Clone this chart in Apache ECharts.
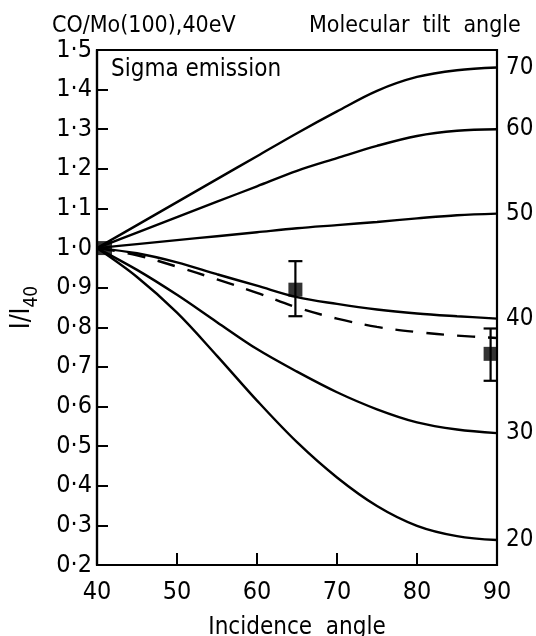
<!DOCTYPE html>
<html>
<head>
<meta charset="utf-8">
<script src="https://cdn.jsdelivr.net/npm/echarts@6/dist/echarts.min.js"></script>
<style>
  html, body { margin: 0; padding: 0; background: #fff; }
  #chart { width: 536px; height: 636px; }
</style>
</head>
<body>
<div id="chart"></div>
<script>
var incidence = [40, 45, 50, 55, 60, 65, 70, 75, 80, 85, 90];

// I/I40 for each molecular tilt angle
var tilt70 = [1.0, 1.058, 1.116, 1.174, 1.232, 1.29, 1.345, 1.397, 1.432, 1.449, 1.456];
var tilt60 = [1.0, 1.039, 1.078, 1.117, 1.156, 1.195, 1.227, 1.258, 1.283, 1.296, 1.300];
var tilt50 = [1.0, 1.01, 1.02, 1.03, 1.04, 1.05, 1.058, 1.066, 1.075, 1.083, 1.087];
var tilt40 = [1.0, 0.987, 0.964, 0.934, 0.905, 0.876, 0.859, 0.845, 0.835, 0.828, 0.822];
var tilt30 = [1.0, 0.945, 0.882, 0.813, 0.745, 0.688, 0.636, 0.593, 0.56, 0.542, 0.533];
var tilt20 = [1.0, 0.927, 0.837, 0.728, 0.615, 0.51, 0.421, 0.349, 0.299, 0.273, 0.263];
var dashedFit = [1.0, 0.982, 0.953, 0.921, 0.887, 0.85, 0.822, 0.801, 0.788, 0.779, 0.773];

var tiltNames = ['70', '60', '50', '40', '30', '20'];

// measured points: incidence, value, error low, error high
var measX = [41.0, 64.8, 89.2];
var measY = [1.0, 0.895, 0.733];
var measLow = [null, 0.828, 0.665];
var measHigh = [null, 0.967, 0.797];

var yTicks = ['0·2', '0·3', '0·4', '0·5', '0·6', '0·7', '0·8', '0·9', '1·0', '1·1', '1·2', '1·3', '1·4', '1·5'];

var FONT = '"DejaVu Sans Condensed", "DejaVu Sans", sans-serif';

function pairs(ys) {
  var out = [];
  for (var i = 0; i < incidence.length; i++) {
    out.push([incidence[i], ys[i]]);
  }
  return out;
}

function curve(name, ys) {
  return {
    name: name,
    type: 'line',
    data: pairs(ys),
    smooth: 0.35,
    symbol: 'none',
    silent: true,
    lineStyle: { color: '#000', width: 2.4 },
    endLabel: {
      show: true,
      formatter: name,
      color: '#000',
      fontFamily: FONT,
      fontSize: 24,
      distance: 9
    }
  };
}

var points = [], bars = [];
for (var i = 0; i < measX.length; i++) {
  points.push([measX[i], measY[i]]);
  if (measLow[i] != null) bars.push([measX[i], measLow[i], measHigh[i]]);
}

var chart = echarts.init(document.getElementById('chart'), null, { renderer: 'canvas' });

var option = {
  animation: false,
  backgroundColor: '#fff',
  grid: {
    left: 97, right: 39, top: 50, bottom: 71,
    outerBoundsMode: 'none',
    containLabel: false,
    show: true, borderColor: '#000', borderWidth: 2.2
  },
  graphic: [
    { type: 'text', left: 52, top: 15,
      style: { text: 'CO/Mo(100),40eV', font: '23px ' + FONT, fill: '#000' } },
    { type: 'text', left: 309, top: 15,
      style: { text: 'Molecular  tilt  angle', font: '23px ' + FONT, fill: '#000' } },
    { type: 'text', left: 111, top: 58,
      style: { text: 'Sigma emission', font: '24px ' + FONT, fill: '#000' } }
  ],
  xAxis: {
    type: 'value',
    min: 40, max: 90, interval: 10,
    name: 'Incidence  angle',
    nameLocation: 'middle',
    nameGap: 51,
    nameTextStyle: { color: '#000', fontFamily: FONT, fontSize: 24 },
    axisLine: { lineStyle: { color: '#000', width: 2.2 } },
    axisTick: { inside: true, length: 12, lineStyle: { color: '#000', width: 2 } },
    axisLabel: { color: '#000', fontFamily: FONT, fontSize: 25, margin: 15 },
    splitLine: { show: false }
  },
  yAxis: {
    type: 'value',
    min: 0.2, max: 1.5, interval: 0.1,
    name: '{a|I/I}{b|40}',
    nameLocation: 'middle',
    nameGap: 58,
    nameRotate: 90,
    nameTextStyle: {
      color: '#000',
      rich: {
        a: { fontFamily: FONT, fontSize: 26, lineHeight: 30, verticalAlign: 'top', color: '#000' },
        b: { fontFamily: FONT, fontSize: 19, lineHeight: 19, padding: [14, 0, 0, 0], verticalAlign: 'top', color: '#000' }
      }
    },
    axisLine: { lineStyle: { color: '#000', width: 2.2 } },
    axisTick: { inside: true, length: 11, lineStyle: { color: '#000', width: 2 } },
    axisLabel: {
      color: '#000', fontFamily: FONT, fontSize: 25, margin: 5,
      formatter: function (v) {
        return yTicks[Math.round((v - 0.2) * 10)];
      }
    },
    splitLine: { show: false }
  },
  series: [
    curve(tiltNames[0], tilt70),
    curve(tiltNames[1], tilt60),
    curve(tiltNames[2], tilt50),
    curve(tiltNames[3], tilt40),
    curve(tiltNames[4], tilt30),
    curve(tiltNames[5], tilt20),
    {
      name: 'fit',
      type: 'line',
      data: pairs(dashedFit),
      smooth: 0.35,
      symbol: 'none',
      silent: true,
      lineStyle: { color: '#000', width: 2.4, type: [18, 13] }
    },
    {
      name: 'error',
      type: 'custom',
      silent: true,
      data: bars,
      renderItem: function (params, api) {
        var top = api.coord([api.value(0), api.value(2)]);
        var bot = api.coord([api.value(0), api.value(1)]);
        var cap = 7;
        var st = { stroke: '#000', lineWidth: 2.2 };
        return {
          type: 'group',
          children: [
            { type: 'line', shape: { x1: top[0], y1: top[1], x2: bot[0], y2: bot[1] }, style: st },
            { type: 'line', shape: { x1: top[0] - cap, y1: top[1], x2: top[0] + cap, y2: top[1] }, style: st },
            { type: 'line', shape: { x1: bot[0] - cap, y1: bot[1], x2: bot[0] + cap, y2: bot[1] }, style: st }
          ]
        };
      },
      z: 5
    },
    {
      name: 'measured',
      type: 'scatter',
      data: points,
      symbol: 'rect',
      symbolSize: 14,
      silent: true,
      itemStyle: { color: '#000' },
      z: 6
    }
  ]
};

chart.setOption(option);
</script>
</body>
</html>
